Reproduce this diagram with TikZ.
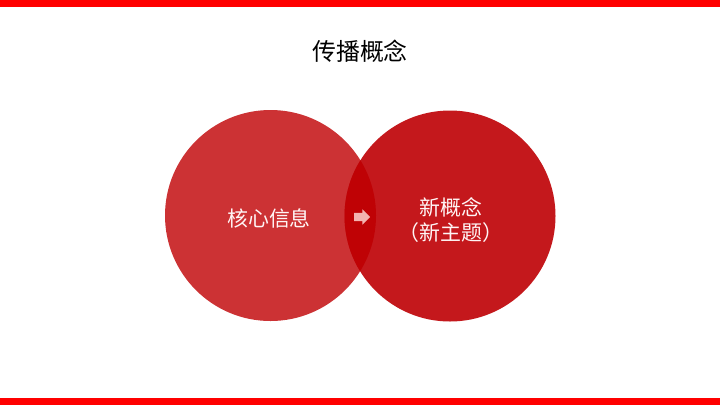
\documentclass[tikz,border=0pt]{standalone}
\usepackage{fontspec}
\usepackage{tikz}
\usepackage{xcolor}
\usetikzlibrary{shapes.arrows,positioning}
\newfontfamily\cjk{Noto Sans CJK SC}

\definecolor{barred}{HTML}{FF0000}
\definecolor{leftred}{HTML}{CC3234}
\definecolor{rightred}{HTML}{C4181C}
\definecolor{midred}{HTML}{BF0205}
\definecolor{arrowpink}{HTML}{F3B3B0}

\tikzset{
  ball/.style={circle,draw=none,inner sep=0pt,minimum size=211bp},
  balltext/.style={text=white!96!red,font=\cjk\fontsize{21}{25}\selectfont,align=center,inner sep=0pt},
  heading/.style={font=\cjk\fontsize{24}{27}\selectfont,text=black,inner sep=0pt},
  pointer/.style={single arrow,fill=arrowpink,inner xsep=0pt,inner ysep=4bp,minimum height=16bp,minimum width=15bp,single arrow head extend=3.5bp,single arrow head indent=0pt}
}

\begin{document}
\begin{tikzpicture}[x=1bp,y=-1bp]
\useasboundingbox (0,0) rectangle (720,405);
\fill[white] (0,0) rectangle (720,405);
\fill[barred] (0,0) rectangle (720,7); % top bar
\fill[barred] (0,398) rectangle (720,405); % bottom bar
\node[heading] (title) at (360,51) {传播概念};
\node[ball,fill=leftred] (core) at (270.5,215.5) {};
\node[ball,fill=rightred] (concept) at (450,216) {};
\begin{scope} % overlap of the two circles
\clip (core.center) circle [radius=105.5bp];
\fill[midred] (concept.center) circle [radius=105.5bp];
\end{scope}
\node[balltext] (coretext) at (269,218) {核心信息};
\node[balltext] (concepttext) at (451,220) {新概念\\（新主题）};
\node[pointer] (arrow) at (360,217) {};
\end{tikzpicture}
\end{document}
